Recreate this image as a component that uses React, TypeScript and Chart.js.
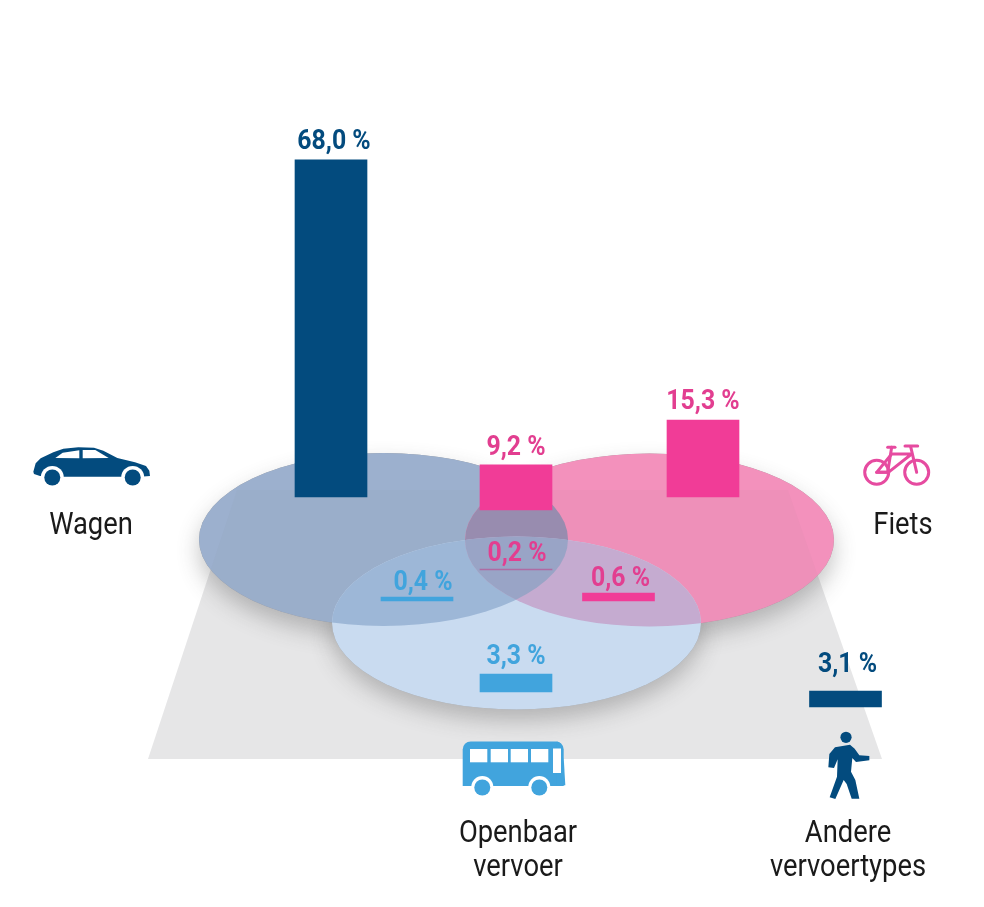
import React, { useEffect, useRef } from "react";
import { Chart, registerables } from "chart.js";

Chart.register(...registerables);

// --- data ---
const segments = ["Wagen", "Wagen + Fiets", "Fiets", "Alle drie", "Wagen + OV", "Fiets + OV", "Openbaar vervoer", "Andere"];
const shares = [68.0, 9.2, 15.3, 0.2, 0.4, 0.6, 3.3, 3.1];
const shareLabels = ["68,0 %", "9,2 %", "15,3 %", "0,2 %", "0,4 %", "0,6 %", "3,3 %", "3,1 %"];
// drawn length of each bar in the picture, in % units (small bars are drawn thicker than their value)
const drawnLengths = [68.0, 9.1, 15.5, 0.2, 0.8, 1.6, 3.6, 3.2];
const categoryNames = [["Wagen"], ["Fiets"], ["Openbaar", "vervoer"], ["Andere", "vervoertypes"]];

// --- layout, in scale units ---
const barCentres = [331, 516, 703, 516, 417, 618.5, 516, 845.5];
const barBases = [0, -2.62, 0, -14.72, -20.97, -20.97, -39.31, -42.34];
const labelDx = [3, 0, 0, 1, 6, 2, 0, 2];
const labelGap = [11, 10, 11, 8, 7, 7, 10, 19];

const NAVY = "#034B7E";
const PINK = "#F13C97";
const SKY = "#41A4DD";
const barColors = [NAVY, PINK, PINK, "rgba(190,70,140,0.6)", SKY, PINK, SKY, NAVY];
const labelColors = [NAVY, "#E23E90", "#E23E90", "#E23E90", SKY, "#E23E90", SKY, NAVY];

const W = 984;
const H = 907;
const ZERO_Y = 497;
const PX_PER_PCT = 4.96;

const blue = { x: 383.5, y: 539.5 };
const pink = { x: 649.5, y: 540 };
const light = { x: 516.5, y: 623 };
const RX = 184.5;
const RY = 86.5;

type E = { x: number; y: number };
const ell = (c: CanvasRenderingContext2D, e: E) => {
  c.beginPath();
  c.ellipse(e.x, e.y, RX, RY, 0, 0, Math.PI * 2);
};
const fillClipped = (c: CanvasRenderingContext2D, clips: E[], color: string) => {
  c.save();
  for (const e of clips) {
    ell(c, e);
    c.clip();
  }
  c.fillStyle = color;
  c.fillRect(0, 0, W, H);
  c.restore();
};

const condensedText = (c: CanvasRenderingContext2D, t: string, x: number, y: number, sx: number) => {
  c.save();
  c.translate(x, y);
  c.scale(sx, 1);
  c.textAlign = "center";
  c.textBaseline = "alphabetic";
  c.fillText(t, 0, 0);
  c.restore();
};

const floorPath = (c: CanvasRenderingContext2D) => {
  c.beginPath();
  c.moveTo(148, 759);
  c.lineTo(882, 759);
  c.lineTo(788, 490);
  c.lineTo(237, 490);
  c.closePath();
};

const backdrop = {
  id: "backdrop",
  beforeDatasetsDraw(chart: Chart) {
    const c = chart.ctx;
    c.save();
    // floor
    c.fillStyle = "#E6E6E7";
    floorPath(c);
    c.fill();
    // shadows
    for (const e of [blue, pink, light]) {
      c.save();
      c.shadowColor = "rgba(70,70,70,0.32)";
      c.shadowBlur = 22;
      c.shadowOffsetY = 11;
      c.fillStyle = "#999";
      ell(c, e);
      c.fill();
      c.restore();
    }
    // discs
    fillClipped(c, [blue], "#9CB0CE");
    fillClipped(c, [pink], "#F391BC");
    fillClipped(c, [light], "#C9DBF0");
    fillClipped(c, [blue, pink], "#9C8EB3");
    fillClipped(c, [blue, light], "#9FBADB");
    fillClipped(c, [pink, light], "#C8ADD4");
    fillClipped(c, [blue, pink, light], "#9DA8CC");
    // the floor shows faintly through the discs
    for (const e of [blue, pink]) {
      c.save();
      ell(c, e);
      c.clip();
      c.fillStyle = "rgba(120,120,130,0.04)";
      floorPath(c);
      c.fill();
      c.restore();
    }
    c.restore();
  },
};

const poly = (c: CanvasRenderingContext2D, ox: number, oy: number, pts: number[][]) => {
  c.beginPath();
  pts.forEach(([x, y], i) => {
    const px = ox + x / 3;
    const py = oy + y / 3;
    if (i === 0) c.moveTo(px, py);
    else c.lineTo(px, py);
  });
  c.closePath();
};
const disc = (c: CanvasRenderingContext2D, x: number, y: number, r: number, col: string) => {
  c.fillStyle = col;
  c.beginPath();
  c.arc(x, y, r, 0, Math.PI * 2);
  c.fill();
};

const drawCar = (c: CanvasRenderingContext2D) => {
  c.fillStyle = NAVY;
  poly(c, 20, 430, [
    [40, 125], [47, 100], [62, 85], [100, 67], [130, 56], [175, 52], [222, 53], [250, 62], [292, 84],
    [345, 97], [378, 108], [388, 122], [390, 138], [360, 140], [315, 140], [120, 140], [60, 138], [42, 132],
  ]);
  c.fill();
  disc(c, 52.3, 477.5, 11.5, "#fff");
  disc(c, 132.7, 477.5, 11.5, "#fff");
  disc(c, 52.3, 477.5, 8, NAVY);
  disc(c, 132.7, 477.5, 8, NAVY);
  c.fillStyle = "#fff";
  poly(c, 20, 430, [[106, 84], [128, 68], [178, 61], [178, 85]]);
  c.fill();
  poly(c, 20, 430, [[188, 85], [188, 60], [226, 60], [266, 84]]);
  c.fill();
};

const drawBike = (c: CanvasRenderingContext2D) => {
  const col = "#E64BA0";
  c.strokeStyle = col;
  c.lineWidth = 3;
  c.lineCap = "round";
  c.lineJoin = "round";
  c.beginPath();
  c.arc(876.7, 472.3, 12, 0, Math.PI * 2);
  c.moveTo(928.7, 472.3);
  c.arc(916.7, 472.3, 12, 0, Math.PI * 2);
  c.stroke();
  poly(c, 850, 430, [[80, 127], [125, 72], [185, 72], [115, 127]]);
  c.stroke();
  const seg = (a: number[], b: number[]) => {
    c.beginPath();
    c.moveTo(850 + a[0] / 3, 430 + a[1] / 3);
    c.lineTo(850 + b[0] / 3, 430 + b[1] / 3);
    c.stroke();
  };
  seg([125, 52], [113, 127]);
  seg([80, 127], [115, 127]);
  seg([182, 50], [200, 127]);
  seg([113, 52], [135, 52]);
  seg([165, 48], [203, 48]);
};

const drawBus = (c: CanvasRenderingContext2D) => {
  c.fillStyle = SKY;
  c.beginPath();
  c.roundRect(462.7, 741.5, 101, 44.5, [8, 8, 0, 0]);
  c.fill();
  poly(c, 450, 730, [[320, 34], [332, 40], [342, 100], [346, 166], [320, 168]]);
  c.fill();
  disc(c, 482.3, 787, 11, "#fff");
  disc(c, 539.3, 787, 11, "#fff");
  disc(c, 482.3, 787.5, 8, SKY);
  disc(c, 539.3, 787.5, 8, SKY);
  c.fillStyle = "#fff";
  for (const x of [470, 490.7, 510.7, 531]) c.fillRect(x, 749, 17.3, 13.3);
  c.fillRect(553, 748.5, 8, 24.5);
};

const drawWalker = (c: CanvasRenderingContext2D) => {
  disc(c, 846, 737.3, 5.6, NAVY);
  c.fillStyle = NAVY;
  poly(c, 770, 640, [
    [195, 322], [240, 314], [254, 326], [268, 346], [298, 348], [298, 361], [258, 366], [247, 354],
    [243, 395], [256, 420], [268, 476], [245, 476], [230, 432], [221, 420], [196, 477], [179, 472],
    [201, 410], [203, 358], [192, 384], [175, 382], [178, 342],
  ]);
  c.fill();
};

const overlays = {
  id: "overlays",
  afterDatasetsDraw(chart: Chart) {
    const c = chart.ctx;
    c.save();
    // share labels follow the top edge of each bar
    const bars = chart.getDatasetMeta(0).data;
    c.font = "bold 27px Roboto";
    shareLabels.forEach((t, i) => {
      const el = bars[i] as unknown as { x: number; y: number; base: number };
      c.fillStyle = labelColors[i];
      condensedText(c, t, el.x + labelDx[i], Math.min(el.y, el.base) - labelGap[i], 0.92);
    });
    // category names
    c.fillStyle = "#1a1a1a";
    c.font = "32px Roboto";
    const spots = [[91, 534], [903, 534], [518, 842], [848, 842]];
    categoryNames.forEach((lines, i) => {
      lines.forEach((l, j) => condensedText(c, l, spots[i][0], spots[i][1] + j * 34, 0.855));
    });
    drawCar(c);
    drawBike(c);
    drawBus(c);
    drawWalker(c);
    c.restore();
  },
};

export default function App() {
  const ref = useRef<HTMLCanvasElement>(null);
  useEffect(() => {
    document.body.style.margin = "0";
    document.body.style.background = "#fff";
    const chart = new Chart(ref.current!, {
      type: "bar",
      data: {
        datasets: [
          {
            label: "Aandeel (%)",
            data: segments.map((_, i) => ({
              x: barCentres[i],
              y: [barBases[i], barBases[i] + drawnLengths[i]],
              share: shares[i],
            })) as any,
            backgroundColor: barColors,
            barThickness: 72,
            borderWidth: 0,
          },
        ],
      },
      options: {
        animation: false,
        responsive: false,
        devicePixelRatio: 1,
        layout: { padding: 0 },
        plugins: { legend: { display: false }, title: { display: false }, tooltip: { enabled: false } },
        scales: {
          x: { type: "linear", min: 0, max: W, display: false, offset: false },
          y: {
            type: "linear",
            min: (ZERO_Y - H) / PX_PER_PCT,
            max: ZERO_Y / PX_PER_PCT,
            display: false,
          },
        },
      },
      plugins: [backdrop, overlays],
    });
    return () => chart.destroy();
  }, []);
  return <canvas ref={ref} width={W} height={H} style={{ display: "block" }} />;
}
